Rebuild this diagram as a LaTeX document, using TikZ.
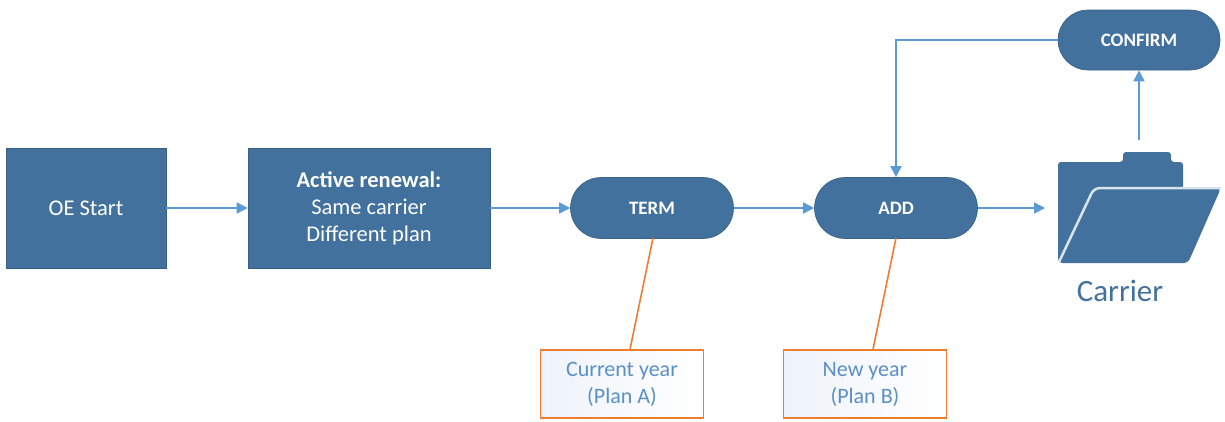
\documentclass[tikz,border=0pt]{standalone}
\usepackage{fontspec}
\setmainfont{Carlito}
\usetikzlibrary{shapes.misc,arrows.meta}
\definecolor{boxblue}{HTML}{41719C}
\definecolor{arrblue}{HTML}{5B9BD5}
\definecolor{callorange}{HTML}{ED7D31}
\definecolor{calltext}{HTML}{5B8FC7}
\definecolor{callfill}{HTML}{EEF3FA}
\tikzset{
  procbox/.style={rectangle, fill=boxblue, draw=boxblue!85!black, line width=0.6pt, text=white, inner sep=0pt, font=\fontsize{22.5}{27}\selectfont, align=center},
  pill/.style={rounded rectangle, fill=boxblue, draw=boxblue!85!black, line width=0.6pt, text=white, inner sep=0pt, minimum width=163pt, minimum height=61pt, font=\fontsize{19}{20}\selectfont\bfseries},
  callout/.style={rectangle, draw=callorange, line width=1.4pt, left color=callfill, right color=white, text=calltext, inner sep=0pt, minimum width=163pt, minimum height=68pt, align=center, font=\fontsize{22}{27}\selectfont},
  flow/.style={draw=arrblue, line width=1.6pt, -{Triangle[length=11pt,width=11pt]}},
  note/.style={draw=callorange, line width=1.6pt},
}
\begin{document}
\begin{tikzpicture}[x=1pt,y=-1pt]
\useasboundingbox (0,0) rectangle (1225,421);
\node[procbox, minimum width=160pt, minimum height=120pt] (oe) at (86,208) {OE Start};
\node[procbox, minimum width=242pt, minimum height=120pt] (act) at (369,208) {\textbf{Active renewal:}\\Same carrier\\Different plan};
\node[pill] (term) at (652,208) {TERM};
\node[pill] (add) at (896,208) {ADD};
\node[pill, minimum width=162pt, minimum height=60pt] (confirm) at (1139,40) {CONFIRM};
\node[callout] (cur) at (622,384) {Current year\\(Plan A)};
\node[callout] (new) at (865,384) {New year\\(Plan B)};
% folder icon
\fill[boxblue, rounded corners=3pt] (1058,262) -- (1058,162) -- (1123,162) -- (1123,152) -- (1171,152) -- (1171,162) -- (1183,162) -- (1183,262) -- cycle;
\fill[boxblue, rounded corners=4pt] (1094,188) -- (1221,188) -- (1188,263) -- (1058,263) -- cycle;
\draw[white!80!boxblue, line width=2.5pt, rounded corners=6pt] (1059,262) -- (1094,188) -- (1221,188);
\node[text=boxblue, font=\fontsize{31}{34}\selectfont, inner sep=0pt] (carrier) at (1120,291) {Carrier};
\coordinate (fin) at (1045,208);
\coordinate (fup) at (1139,140);
% connectors
\draw[flow] (oe.east) -- (act.west);
\draw[flow] (act.east) -- (term.west);
\draw[flow] (term.east) -- (add.west);
\draw[flow] (add.east) -- (fin);
\draw[flow] (fup) -- (confirm.south);
\draw[flow] (confirm.west) -| (add.north);
\draw[note] (653,238) -- (cur.north -| 630,350);
\draw[note] (896,238) -- (new.north -| 873,350);
\end{tikzpicture}
\end{document}
